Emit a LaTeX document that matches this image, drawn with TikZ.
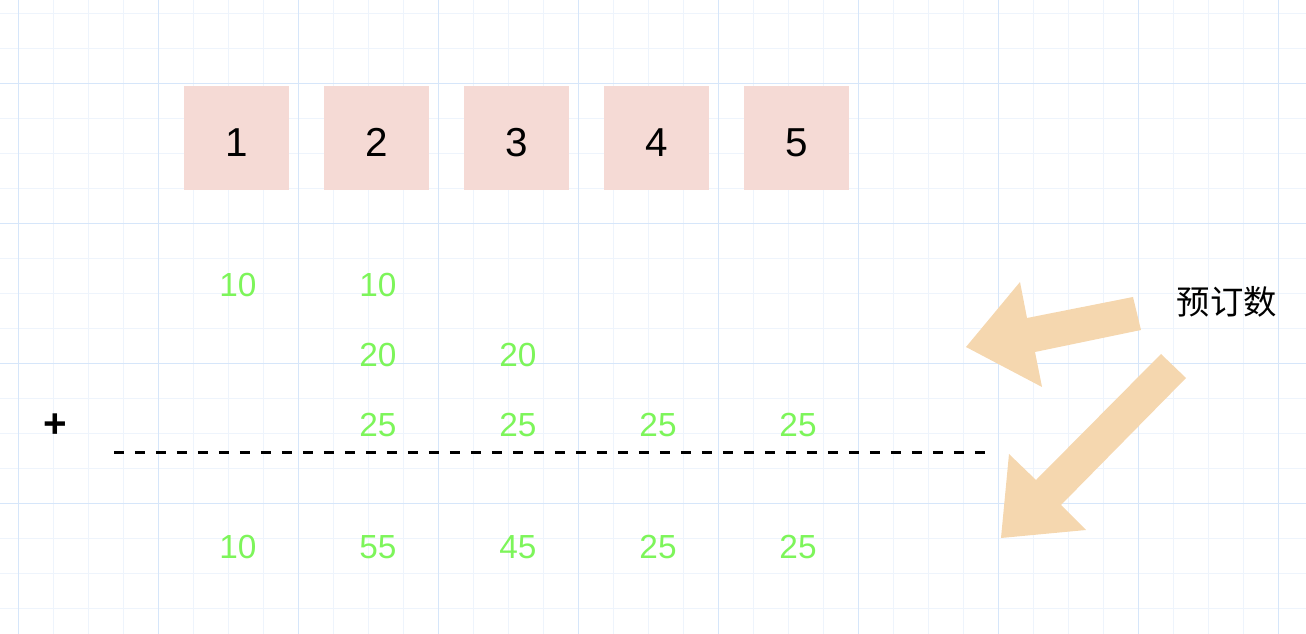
\documentclass[tikz,border=0pt]{standalone}
\usepackage{fontspec}
\setmainfont{Liberation Sans}
\newfontfamily\cjk{Noto Sans CJK SC}
\definecolor{gridmajor}{RGB}{214,230,250}
\definecolor{gridminor}{RGB}{238,244,252}
\definecolor{boxfill}{RGB}{245,218,213}
\definecolor{numgreen}{RGB}{125,245,90}
\definecolor{arrowfill}{RGB}{245,215,175}
\tikzset{
    daybox/.style={fill=boxfill, minimum width=2.1cm, minimum height=2.08cm, text height=0.76cm, inner sep=0pt, font=\fontsize{23}{23}\selectfont},
    num/.style={text=numgreen, inner sep=0pt, font=\fontsize{19}{19}\selectfont},
    bigarrow/.style={fill=arrowfill, draw=none}
}
\begin{document}
\begin{tikzpicture}[x=0.02cm, y=-0.02cm]
                \useasboundingbox (0,0) rectangle (1306,634);
                \foreach \x in {18,53,...,1306} \draw[gridminor, line width=0.02cm] (\x,0) -- (\x,634);
                \foreach \y in {14,49,...,634} \draw[gridminor, line width=0.02cm] (0,\y) -- (1306,\y);
                \foreach \x in {18,158,...,1306} \draw[gridmajor, line width=0.02cm] (\x,0) -- (\x,634);
                \foreach \y in {84,224,...,634} \draw[gridmajor, line width=0.02cm] (0,\y) -- (1306,\y);
                \node[daybox] (b1) at (236.5,138) {1};
                \node[daybox] (b2) at (376.5,138) {2};
                \node[daybox] (b3) at (516.5,138) {3};
                \node[daybox] (b4) at (656.5,138) {4};
                \node[daybox] (b5) at (796.5,138) {5};
                \node[num] (r1c1) at (238,285) {10};
                \node[num] (r1c2) at (378,285) {10};
                \node[num] (r2c2) at (378,355) {20};
                \node[num] (r2c3) at (518,355) {20};
                \node[num] (r3c2) at (378,425) {25};
                \node[num] (r3c3) at (518,425) {25};
                \node[num] (r3c4) at (658,425) {25};
                \node[num] (r3c5) at (798,425) {25};
                \node[inner sep=0pt, font=\bfseries\fontsize{23}{23}\selectfont] (plus) at (55,426) {+};
                \draw[line width=0.065cm, dash pattern=on 0.21cm off 0.21cm] (114,452.7) -- (985,452.7);
                \node[num] (s1) at (238,547.5) {10};
                \node[num] (s2) at (378,547.5) {55};
                \node[num] (s3) at (518,547.5) {45};
                \node[num] (s4) at (658,547.5) {25};
                \node[num] (s5) at (798,547.5) {25};
                \node[inner sep=0pt, font=\cjk\fontsize{19}{19}\selectfont] (label) at (1227,302) {预订数};
                \fill[bigarrow] (1133,297) -- (1141,330) -- (1035,352) -- (1042,387) -- (966,347) -- (1020,282) -- (1027,318) -- cycle;
                \fill[bigarrow] (1161,354) -- (1186,378) -- (1061,505) -- (1086,530) -- (1001,538) -- (1009,454) -- (1036,480) -- cycle;
            \end{tikzpicture}
\end{document}
